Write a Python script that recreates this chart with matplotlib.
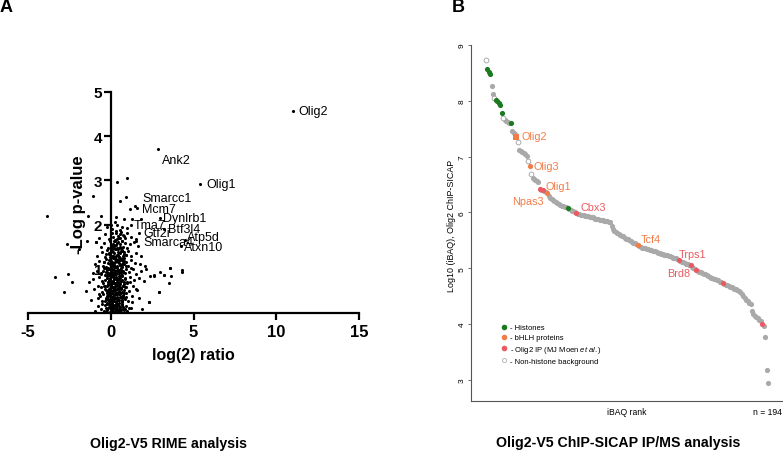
import matplotlib
matplotlib.use('Agg')
import matplotlib.pyplot as plt
from matplotlib.lines import Line2D

plt.rcParams['font.family'] = ['Liberation Sans', 'DejaVu Sans']
plt.rcParams['mathtext.fontset'] = 'custom'
plt.rcParams['mathtext.it'] = 'Liberation Sans:italic'
plt.rcParams['mathtext.rm'] = 'Liberation Sans'
plt.rcParams['axes.unicode_minus'] = False

W, H = 783, 452

# ---- Panel A: RIME volcano (log2 ratio vs -log p) ----
rime_x = [
    -0.95, -0.6, -0.42, -0.3, -0.2, -0.12, -0.05, 0.02, 0.08, 0.15, 0.22, 0.3, 0.38, 0.45, 0.55,
    0.63, 0.72, 0.85, 1.0, 1.2, -0.35, -0.1, 0.05, 0.12, 0.25, 0.4, 0.5, 0.68, -0.25, 0.33,
    -1.2, -0.8, -0.55, -0.45, -0.33, -0.22, -0.15, -0.08, 0.0, 0.06, 0.12, 0.18, 0.25, 0.32, 0.4,
    0.48, 0.56, 0.65, 0.75, 0.88, 1.05, 1.3, 1.9, -0.7, -0.28, -0.02, 0.1, 0.22, 0.36, 0.52, 0.7, 0.95,
    -1.5, -1.0, -0.75, -0.5, -0.38, -0.27, -0.18, -0.1, -0.03, 0.04, 0.1, 0.17, 0.23, 0.3, 0.37,
    0.44, 0.5, 0.58, 0.66, 0.74, 0.82, 0.92, 1.1, 1.35, 1.6, 2.3, -0.6, -0.2, 0.0, 0.14, 0.27, 0.41, 0.62, 0.78,
    -1.3, -1.05, -0.7, -0.48, -0.35, -0.25, -0.15, -0.07, 0.0, 0.07, 0.13, 0.2, 0.27, 0.33, 0.4,
    0.47, 0.54, 0.61, 0.69, 0.78, 0.88, 1.0, 1.15, 1.4, 1.7, 2.0, 2.4, 2.6, 2.9, -0.55, -0.1, 0.16, 0.36, 0.57,
    -1.1, -0.85, -0.6, -0.42, -0.3, -0.2, -0.12, -0.04, 0.03, 0.1, 0.17, 0.24, 0.31, 0.38, 0.45,
    0.52, 0.6, 0.68, 0.76, 0.85, 0.95, 1.08, 1.25, 1.5, 1.8, 2.1, 3.0, 3.2, 3.6, -0.25, 0.06, 0.28, 0.48, 0.7,
    -0.95, -0.7, -0.45, -0.3, -0.18, -0.08, 0.0, 0.08, 0.15, 0.22, 0.3, 0.37, 0.44, 0.51, 0.58,
    0.66, 0.74, 0.83, 0.93, 1.05, 1.2, 1.45, 1.75, 2.05, -0.4, 0.12, 0.34, 0.55, 0.8, 4.3,
    -0.85, -0.55, -0.35, -0.22, -0.12, -0.02, 0.06, 0.14, 0.21, 0.28, 0.36, 0.43, 0.5, 0.57,
    0.65, 0.73, 0.82, 0.92, 1.05, 1.25, 1.5, 1.85, -0.28, 0.1, 0.32, 0.6, 0.78, 4.32,
    -0.9, -0.6, -0.4, -0.15, -0.05, 0.05, 0.13, 0.2, 0.27, 0.34, 0.42, 0.5,
    0.58, 0.66, 0.75, 0.86, 0.98, 1.15, 1.4, 1.65, 0.22, 0.45, 0.7, -2.67,
    -0.7, -0.35, -0.1, 0.05, 0.14, 0.24, 0.33, 0.42, 0.52, 0.62, 0.72, 0.85, 1.0, 1.2, 1.55, 0.3, 0.55, -1.9,
    -0.6, -0.25, 0.1, 0.25, 0.4, 0.55, 0.7, 0.8, 1.0, 1.3, 1.8, 0.3, 0.0, -1.4, -1.46, -0.9,
    -3.87, -3.37, -2.61, -2.35, -2.81, -1.07, 0.4, 0.96, 0.54, 0.94, 1.16, 1.47, 1.57, 3.61,
    3.67, 3.5, 2.91, 3.2, 2.6, 2.31,
    0.02, 0.09, 0.16, 0.23, 0.3, 0.37, 0.44, 0.51, 0.58, 0.65, 0.04, 0.11, 0.19, 0.26, 0.34,
    0.41, 0.49, 0.56, 0.63, 0.71, 0.01, 0.08, 0.14, 0.21, 0.29, 0.36, 0.43, 0.5, 0.59, 0.67,
    0.05, 0.12, 0.18, 0.27, 0.35, 0.42, 0.47, 0.54, 0.61, 0.74, -0.05, -0.15, -0.25, -0.35, -0.08,
    -0.18, -0.28, -0.12, -0.22, -0.32, 0.03, 0.13, 0.24, 0.33, 0.46, 0.57, 0.69, 0.2, 0.39, 0.53,
    -0.3, -0.22, -0.14, -0.06, 0.02, 0.1, 0.18, 0.26, 0.34, 0.42, 0.5, 0.58, 0.66, 0.74, 0.82,
    0.9, -0.27, -0.19, -0.11, -0.03, 0.05, 0.13, 0.21, 0.29, 0.37, 0.45, 0.53, 0.61, 0.69, 0.77,
    0.85, 0.93, -0.33, -0.24, -0.16, -0.09, 0.0, 0.07, 0.15, 0.23, 0.31, 0.39, 0.47, 0.55, 0.63,
    0.71, 0.79, 0.87, 0.97, -0.2, -0.12, -0.04, 0.04, 0.12, 0.2, 0.28, 0.36, 0.44, 0.52, 0.6,
    0.68, 0.76, 0.84, -0.15, -0.07, 0.01, 0.09, 0.17, 0.25, 0.33, 0.41, 0.49, 0.57, 0.65, 0.73,
    0.81, 0.9, 1.1, 1.3, -0.5, -0.65, -0.8, 1.5, 1.7, -0.45, 0.0, 0.2, 0.4, 0.6, 0.8,
    -0.1, 0.15, 0.35, 0.55, 0.75, 0.95, 1.15, -0.38, -0.58, 1.35,
    11.0, 2.85, 5.42, 2.95, 1.25, 1.55, 1.72, 4.5, 4.25, 3.2,
]
rime_y = [
    0.05, 0.1, 0.04, 0.12, 0.06, 0.14, 0.03, 0.09, 0.13, 0.05, 0.11, 0.07, 0.15, 0.04, 0.1,
    0.06, 0.13, 0.08, 0.05, 0.12, 0.18, 0.2, 0.22, 0.17, 0.19, 0.21, 0.16, 0.2, 0.23, 0.24,
    0.3, 0.35, 0.28, 0.42, 0.27, 0.38, 0.31, 0.44, 0.26, 0.36, 0.29, 0.4, 0.33, 0.27, 0.43,
    0.3, 0.37, 0.26, 0.41, 0.32, 0.28, 0.38, 0.09, 0.44, 0.35, 0.39, 0.45, 0.28, 0.34, 0.42, 0.29, 0.36,
    0.5, 0.55, 0.62, 0.48, 0.6, 0.52, 0.64, 0.47, 0.57, 0.63, 0.49, 0.56, 0.61, 0.46, 0.54,
    0.65, 0.5, 0.59, 0.47, 0.62, 0.53, 0.58, 0.49, 0.6, 0.52, 0.24, 0.58, 0.5, 0.61, 0.53, 0.48, 0.6, 0.56, 0.46,
    0.7, 0.78, 0.82, 0.68, 0.75, 0.84, 0.71, 0.79, 0.66, 0.83, 0.72, 0.77, 0.69, 0.81, 0.74,
    0.67, 0.8, 0.73, 0.85, 0.7, 0.76, 0.68, 0.82, 0.74, 0.79, 0.72, 0.84, 0.86, 0.47, 0.72, 0.85, 0.67, 0.78, 0.7,
    0.9, 0.96, 0.88, 1.02, 0.93, 0.87, 1.0, 0.91, 0.97, 0.86, 1.04, 0.94, 0.89, 1.01, 0.92,
    0.98, 0.87, 1.03, 0.95, 0.9, 0.99, 0.93, 1.02, 0.88, 0.95, 1.0, 0.92, 0.86, 1.02, 0.97, 0.92, 1.05, 0.9, 0.96,
    1.1, 1.18, 1.07, 1.22, 1.12, 1.2, 1.08, 1.15, 1.24, 1.09, 1.17, 1.06, 1.21, 1.13, 1.19,
    1.08, 1.23, 1.11, 1.16, 1.07, 1.2, 1.14, 1.1, 1.06, 1.16, 1.1, 1.23, 1.08, 1.18, 0.98,
    1.3, 1.38, 1.27, 1.42, 1.33, 1.26, 1.4, 1.29, 1.36, 1.44, 1.31, 1.39, 1.27, 1.35,
    1.43, 1.28, 1.37, 1.32, 1.41, 1.3, 1.36, 1.28, 1.34, 1.44, 1.29, 1.4, 1.33, 0.92,
    1.6, 1.5, 1.58, 1.47, 1.62, 1.52, 1.57, 1.46, 1.64, 1.53, 1.6, 1.48,
    1.56, 1.63, 1.5, 1.58, 1.47, 1.55, 1.6, 1.52, 1.53, 1.45, 1.62, 1.55,
    1.7, 1.78, 1.68, 1.82, 1.72, 1.66, 1.8, 1.74, 1.69, 1.84, 1.76, 1.7, 1.8, 1.72, 1.67, 1.85, 1.78, 1.45,
    2.19, 1.95, 1.9, 2.05, 2.0, 1.88, 1.95, 2.12, 1.92, 2.13, 2.13, 2.17, 2.0, 2.19, 1.63, 1.6,
    2.2, 0.81, 0.88, 0.70, 0.47, 2.65, 2.96, 3.05, 2.54, 2.63, 2.35, 2.41, 2.37, 1.02,
    0.84, 0.69, 0.47, 0.86, 0.84, 0.24,
    0.15, 0.27, 0.08, 0.35, 0.2, 0.1, 0.3, 0.22, 0.14, 0.33, 0.45, 0.58, 0.4, 0.52, 0.66,
    0.48, 0.6, 0.43, 0.55, 0.38, 0.72, 0.85, 0.68, 0.9, 0.78, 0.95, 0.7, 0.83, 0.92, 0.75,
    1.0, 1.12, 0.98, 1.15, 1.05, 1.2, 0.97, 1.1, 1.02, 1.18, 0.15, 0.3, 0.45, 0.6, 0.75,
    0.9, 1.05, 0.55, 0.2, 0.85, 1.3, 1.38, 1.26, 1.45, 1.32, 1.25, 1.4, 1.52, 1.58, 1.7,
    0.02, 0.08, 0.12, 0.18, 0.04, 0.1, 0.16, 0.02, 0.12, 0.18, 0.08, 0.02, 0.17, 0.1, 0.03,
    0.15, 0.32, 0.38, 0.28, 0.4, 0.3, 0.42, 0.34, 0.44, 0.37, 0.31, 0.46, 0.36, 0.27, 0.39,
    0.33, 0.45, 0.55, 0.6, 0.66, 0.52, 0.63, 0.58, 0.68, 0.54, 0.62, 0.7, 0.57, 0.65, 0.72,
    0.6, 0.66, 0.58, 0.7, 0.8, 0.88, 0.76, 0.92, 0.82, 0.86, 0.95, 0.8, 0.9, 0.78, 0.98,
    0.84, 0.93, 0.8, 1.02, 1.1, 1.18, 1.06, 1.14, 1.22, 1.04, 1.16, 1.26, 1.08, 1.2, 1.12,
    1.24, 1.06, 0.12, 0.25, 0.2, 0.38, 0.15, 0.55, 0.35, 0.95, 1.5, 1.62, 1.68, 1.47, 1.74,
    1.35, 1.3, 1.48, 1.5, 1.25, 1.32, 0.7, 1.15, 0.9, 1.0,
    4.56, 3.70, 2.91, 2.15, 2.0, 1.62, 1.82, 1.65, 1.52, 1.9,
]

rime_genes = ['Olig2', 'Ank2', 'Olig1', 'Smarcc1', 'Mcm7', 'Dynlrb1', 'Tma7',
              'Btf3l4', 'Gtf2i', 'Atp5d', 'Smarca4', 'Atxn10']
rime_gene_x = [11.35, 3.07, 5.78, 1.91, 1.91, 3.15, 1.40, 3.47, 2.0, 4.62, 1.95, 4.42]
rime_gene_y = [4.56, 3.46, 2.91, 2.60, 2.35, 2.15, 2.00, 1.90, 1.80, 1.73, 1.60, 1.49]

# ---- Panel B: ChIP-SICAP iBAQ ranking ----
ibaq = [
    8.74, 8.57, 8.51, 8.48, 8.26, 8.12, 8.05, 8.01, 7.99, 7.96, 7.92, 7.78, 7.69, 7.66, 7.64,
    7.62, 7.61, 7.60, 7.46, 7.42, 7.40, 7.36, 7.26, 7.12, 7.10, 7.08, 7.06, 7.04, 7.01, 6.93,
    6.84, 6.68, 6.61, 6.59, 6.58, 6.57, 6.55,
    6.42, 6.41, 6.40, 6.38, 6.36, 6.34, 6.29, 6.26, 6.24, 6.22, 6.20, 6.18, 6.17, 6.15, 6.14,
    6.12, 6.11, 6.10, 6.09, 6.08, 6.06, 6.05, 6.03, 6.02, 6.00, 5.99, 5.98, 5.97,
    5.96, 5.95, 5.95, 5.94, 5.93, 5.93, 5.92, 5.91, 5.91, 5.90, 5.89, 5.89, 5.88, 5.87, 5.87,
    5.86, 5.85, 5.85, 5.84, 5.83, 5.82,
    5.75, 5.70,
    5.66, 5.64, 5.63, 5.61, 5.60, 5.58, 5.57, 5.55, 5.53, 5.52, 5.50, 5.49, 5.47, 5.46,
    5.45, 5.44, 5.42,
    5.39, 5.38, 5.37, 5.36, 5.36, 5.35, 5.34, 5.33, 5.32, 5.31, 5.30, 5.30, 5.29, 5.28, 5.27,
    5.26, 5.25, 5.24, 5.24, 5.23, 5.22, 5.21, 5.20, 5.19, 5.18, 5.18, 5.17,
    5.15, 5.13, 5.12, 5.11, 5.10, 5.08, 5.07, 5.06, 5.05, 5.03, 5.01, 4.99, 4.96,
    4.95, 4.94, 4.93, 4.91, 4.90, 4.89, 4.87, 4.86, 4.85, 4.83, 4.82, 4.81, 4.80, 4.79, 4.78,
    4.76, 4.75, 4.73,
    4.71, 4.70, 4.69, 4.68, 4.67, 4.66, 4.65, 4.63, 4.62, 4.61, 4.59, 4.57,
    4.54, 4.50, 4.46, 4.43, 4.41, 4.38, 4.35, 4.24, 4.18, 4.15, 4.13, 4.10, 4.08,
    4.05, 4.00, 3.96, 3.77, 3.17, 2.94,
]
ranks = list(range(1, len(ibaq) + 1))

histone_ranks = [2, 3, 4, 8, 9, 10, 11, 12, 18, 57]
bhlh_ranks = [31, 43, 105]
olig2_square_rank = 22
moen_ranks = [38, 40, 63, 133, 141, 145, 163, 190]
open_ranks = [1, 7, 13, 23, 30, 32]

sicap_labels = ['Olig2', 'Olig3', 'Olig1', 'Npas3', 'Cbx3', 'Tcf4', 'Trps1', 'Brd8']
sicap_label_x = [25.6, 34, 42, 41, 65.5, 107, 133, 141]
sicap_label_y = [7.37, 6.84, 6.47, 6.21, 6.09, 5.52, 5.25, 4.92]
sicap_label_ha = ['left', 'left', 'left', 'right', 'left', 'left', 'left', 'right']
sicap_label_kind = ['b', 'b', 'b', 'b', 'm', 'b', 'm', 'm']

GREY = '#a9a9a9'
GREEN = '#1b7a1f'
ORANGE = '#f27c48'
RED = '#ea5a60'

fig = plt.figure(figsize=(W / 100, H / 100), dpi=100)


def fx(px):
    return px / W


def fy(py):
    return 1 - py / H


# Panel A
axA = fig.add_axes([fx(28), fy(314), 331 / W, 221 / H])
axA.set_xlim(-5, 15)
axA.set_ylim(0, 5)
axA.scatter(rime_x, rime_y, s=5, c='black', linewidths=0, zorder=3)
for name, gx, gy in zip(rime_genes, rime_gene_x, rime_gene_y):
    axA.text(gx, gy, name, fontsize=9, ha='left', va='center', zorder=4)

axA.spines['top'].set_visible(False)
axA.spines['right'].set_visible(False)
axA.spines['left'].set_position(('data', 0))
for s in ('left', 'bottom'):
    axA.spines[s].set_linewidth(1.6)
axA.set_xticks([-5, 0, 5, 10, 15])
axA.set_yticks([1, 2, 3, 4, 5])
axA.tick_params(axis='x', length=5, width=1.6, pad=3, labelsize=12)
axA.tick_params(axis='y', length=5, width=1.6, pad=1, labelsize=11)
for lab in axA.get_xticklabels() + axA.get_yticklabels():
    lab.set_fontweight('bold')
fig.text(fx(78), fy(205), '-Log p-value', rotation=90, ha='center', va='center',
         fontsize=12, fontweight='bold')
fig.text(fx(193), fy(356), 'log(2) ratio', ha='center', va='center',
         fontsize=11.5, fontweight='bold')

# Panel B
axB = fig.add_axes([fx(471), fy(402), 311 / W, 356 / H])
axB.set_xlim(-9.05, 203.5)
axB.set_ylim(2.62, 9.0)

special = set(histone_ranks + bhlh_ranks + moen_ranks + open_ranks + [olig2_square_rank])
gx = [r for r in ranks if r not in special]
axB.scatter(gx, [ibaq[r - 1] for r in gx], s=14, c=GREY, linewidths=0, zorder=2)
axB.scatter(open_ranks, [ibaq[r - 1] for r in open_ranks], s=12, facecolors='white',
            edgecolors='#a0a0a0', linewidths=0.6, zorder=3)
axB.scatter(histone_ranks, [ibaq[r - 1] for r in histone_ranks], s=14, c=GREEN,
            linewidths=0, zorder=4)
axB.scatter(bhlh_ranks, [ibaq[r - 1] for r in bhlh_ranks], s=14, c=ORANGE,
            linewidths=0, zorder=4)
axB.scatter([olig2_square_rank], [ibaq[olig2_square_rank - 1]], s=22, c=ORANGE,
            marker='s', linewidths=0, zorder=4)
axB.scatter(moen_ranks, [ibaq[r - 1] for r in moen_ranks], s=14, c=RED,
            linewidths=0, zorder=4)

for name, lx, ly, ha, kind in zip(sicap_labels, sicap_label_x, sicap_label_y,
                                  sicap_label_ha, sicap_label_kind):
    axB.text(lx, ly, name, fontsize=7.8, ha=ha, va='center',
             color=ORANGE if kind == 'b' else RED, zorder=5)

axB.spines['top'].set_visible(False)
axB.spines['right'].set_visible(False)
for s in ('left', 'bottom'):
    axB.spines[s].set_linewidth(0.8)
    axB.spines[s].set_color('#555555')
axB.set_xticks([])
axB.set_yticks([3, 4, 5, 6, 7, 8, 9])
axB.tick_params(axis='y', length=2.5, width=0.6, color='#555555', pad=1.5,
                labelsize=6, labelrotation=90)
for lab in axB.get_yticklabels():
    lab.set_va('center')
fig.text(fx(452), fy(226), 'Log10 (iBAQ), Olig2 ChIP-SICAP', rotation=90,
         ha='center', va='center', fontsize=6.4)
fig.text(fx(627), fy(413), 'iBAQ rank', ha='center', va='center', fontsize=6.2)
fig.text(fx(782), fy(413), 'n = 194', ha='right', va='center', fontsize=6.2)

handles = [
    Line2D([], [], ls='none', marker='o', ms=3, mfc=GREEN, mec=GREEN),
    Line2D([], [], ls='none', marker='o', ms=3, mfc=ORANGE, mec=ORANGE),
    Line2D([], [], ls='none', marker='o', ms=3, mfc=RED, mec=RED),
    Line2D([], [], ls='none', marker='o', ms=3, mfc='white', mec='#a0a0a0', mew=0.5),
]
labels = ['- Histones', '- bHLH proteins', r'- Olig2 IP (MJ Moen $\it{et\ al.}$)',
          '- Non-histone background']
fig.legend(handles, labels, loc='upper left', bbox_to_anchor=(fx(501), fy(325)),
           frameon=False, fontsize=5.5, handlelength=0.8, handletextpad=0.4,
           labelspacing=0.35, borderpad=0, borderaxespad=0)

# Panel letters and titles
fig.text(fx(6), fy(8), 'A', ha='center', va='center', fontsize=13, fontweight='bold')
fig.text(fx(458), fy(8), 'B', ha='center', va='center', fontsize=13, fontweight='bold')
fig.text(fx(168), fy(444), 'Olig2-V5 RIME analysis', ha='center', va='center',
         fontsize=10.2, fontweight='bold')
fig.text(fx(618), fy(443), 'Olig2-V5 ChIP-SICAP IP/MS analysis', ha='center',
         va='center', fontsize=10.2, fontweight='bold')

fig.savefig('out.png', dpi=100)
